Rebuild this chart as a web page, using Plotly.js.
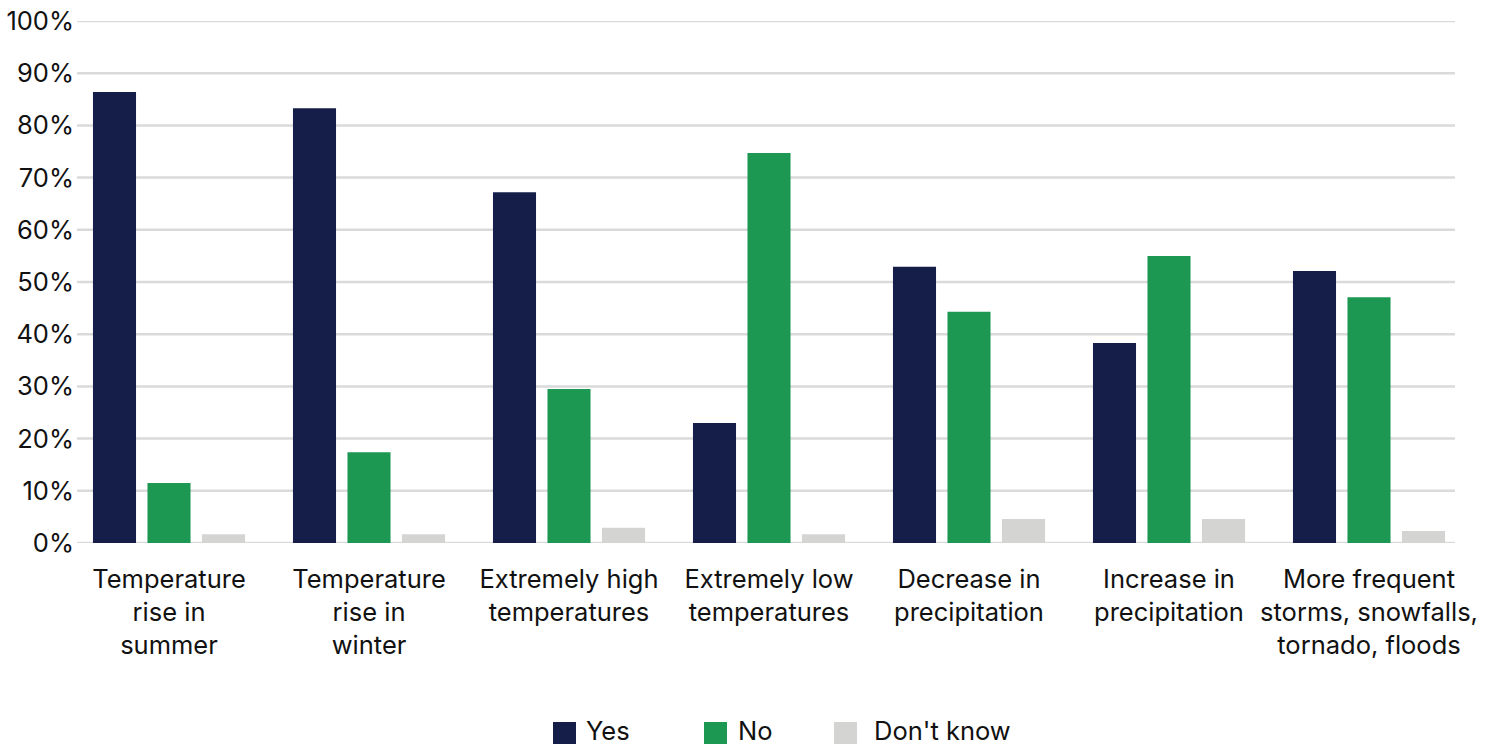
<!DOCTYPE html>
<html>
<head>
<meta charset="utf-8">
<script src="https://cdn.plot.ly/plotly-3.0.1.min.js"></script>
<style>
  html, body { margin: 0; padding: 0; background: #fff; }
  #chart { width: 1490px; height: 745px; }
</style>
</head>
<body>
<div id="chart"></div>
<script>
// Perceived climate changes: share of answers per phenomenon
const categories = [
  'Temperature<br>rise in<br>summer',
  'Temperature<br>rise in<br>winter',
  'Extremely high<br>temperatures',
  'Extremely low<br>temperatures',
  'Decrease in<br>precipitation',
  'Increase in<br>precipitation',
  'More frequent<br>storms, snowfalls,<br>tornado, floods'
];
const seriesNames = ['Yes', 'No', "Don't know"];
const yesValues = [86.4, 83.3, 67.2, 23.0, 52.9, 38.3, 52.1];
const noValues = [11.5, 17.4, 29.5, 74.7, 44.3, 55.0, 47.1];
const dontKnowValues = [1.7, 1.7, 2.9, 1.7, 4.6, 4.6, 2.3];
const yTickValues = [0, 10, 20, 30, 40, 50, 60, 70, 80, 90, 100];
const yTickLabels = ['0%', '10%', '20%', '30%', '40%', '50%', '60%', '70%', '80%', '90%', '100%'];

const colors = ['#141e48', '#1c9853', '#d4d5d2'];
const seriesValues = [yesValues, noValues, dontKnowValues];
const FONT = 'Inter, "Open Sans", Arial, sans-serif';
const FS = 25.5;

const W = 1490, H = 745;
const M = { l: 69, r: 21, t: 21, b: 202 };
const plotW = W - M.l - M.r, plotH = H - M.t - M.b;
const px = x => (x - M.l) / plotW;           // pixel -> paper x
const py = y => (H - M.b - y) / plotH;       // pixel -> paper y

const traces = seriesNames.map((name, i) => ({
  type: 'bar',
  name: name,
  x: categories,
  y: seriesValues[i],
  marker: { color: colors[i] },
  showlegend: false,
  hoverinfo: 'x+y'
}));

// horizontal gridlines
const shapes = yTickValues.map(v => ({
  type: 'line', layer: 'below',
  xref: 'paper', yref: 'y',
  x0: px(77), x1: px(1455), y0: v, y1: v,
  line: { color: '#dadada', width: 2.5 }
}));

// legend: swatches + labels
const legendSwatchX = [553, 704, 834];
const legendTextX = [584, 736, 872];
const annotations = [];
seriesNames.forEach((name, i) => {
  shapes.push({
    type: 'rect', xref: 'paper', yref: 'paper',
    x0: px(legendSwatchX[i]), x1: px(legendSwatchX[i] + 23),
    y0: py(744), y1: py(722),
    fillcolor: colors[i], line: { width: 0 }
  });
  annotations.push({
    xref: 'paper', yref: 'paper',
    x: px(legendTextX[i]), y: py(730),
    xanchor: 'left', yanchor: 'middle',
    text: name, showarrow: false,
    font: { family: FONT, size: FS, color: '#111' }
  });
});

const layout = {
  width: W, height: H,
  margin: M,
  paper_bgcolor: '#fff', plot_bgcolor: '#fff',
  barmode: 'group',
  bargap: 0.1825,
  bargroupgap: 0.21,
  font: { family: FONT, size: FS, color: '#111' },
  xaxis: {
    showgrid: false, zeroline: false, showline: false,
    ticks: '', tickfont: { family: FONT, size: FS, color: '#111' },
    ticklabelstandoff: 18
  },
  yaxis: {
    range: [0, 100], showgrid: false, zeroline: false, showline: false,
    tickmode: 'array', tickvals: yTickValues, ticktext: yTickLabels,
    ticks: '', tickfont: { family: FONT, size: FS, color: '#111' },
    ticklabelstandoff: -6
  },
  shapes: shapes,
  annotations: annotations,
  showlegend: false
};

Plotly.newPlot('chart', traces, layout, { displayModeBar: false, staticPlot: true });
</script>
</body>
</html>
